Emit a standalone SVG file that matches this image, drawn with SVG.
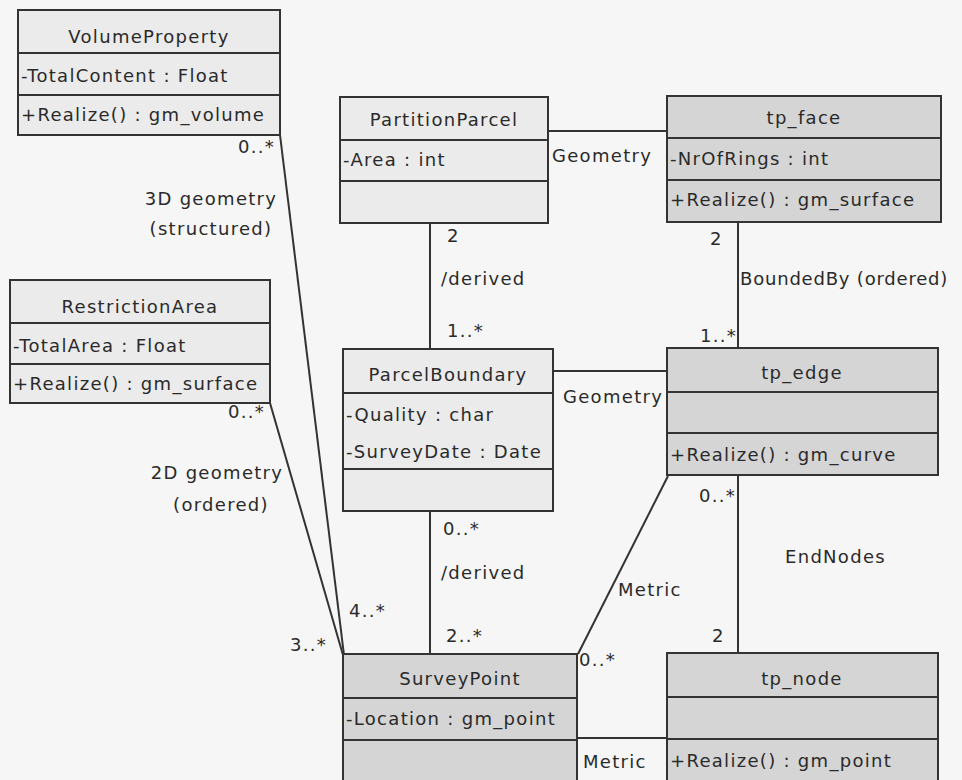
<svg xmlns="http://www.w3.org/2000/svg" width="962" height="780" viewBox="0 0 962 780">
  <style>
    text { font-family: "DejaVu Sans", "Liberation Sans", sans-serif; font-size: 18px; fill: #2a2a2a; letter-spacing: 1.3px; }
    .title { text-anchor: middle; }
    .box { stroke: #333333; stroke-width: 2; }
    .light { fill: #ebebeb; }
    .dark { fill: #d5d5d5; }
    .div { stroke: #333333; stroke-width: 2; fill: none; }
    .conn { stroke: #333333; stroke-width: 2; fill: none; }
  </style>
  <rect width="962" height="780" fill="#f6f6f6"/>

  <!-- associations -->
  <g id="connectors">
    <line class="conn" x1="548" y1="131" x2="667" y2="131"/>
    <line class="conn" x1="430" y1="223" x2="430" y2="349"/>
    <line class="conn" x1="553" y1="371" x2="667" y2="371"/>
    <line class="conn" x1="738" y1="222" x2="738" y2="348"/>
    <line class="conn" x1="738" y1="475" x2="738" y2="653"/>
    <line class="conn" x1="430" y1="511" x2="430" y2="654"/>
    <line class="conn" x1="577" y1="738" x2="667" y2="738"/>
    <line class="conn" x1="668" y1="476" x2="578" y2="654"/>
    <line class="conn" x1="280" y1="135" x2="344" y2="655"/>
    <line class="conn" x1="270" y1="403" x2="343" y2="655"/>

    <text x="552" y="162">Geometry</text>
    <text x="563" y="403">Geometry</text>
    <text x="447" y="242">2</text>
    <text x="441" y="285">/derived</text>
    <text x="447" y="337">1..*</text>
    <text x="443" y="535">0..*</text>
    <text x="441" y="579">/derived</text>
    <text x="446" y="642">2..*</text>
    <text x="710" y="245">2</text>
    <text x="740" y="285" style="letter-spacing:0.8px">BoundedBy (ordered)</text>
    <text x="700" y="342">1..*</text>
    <text x="699" y="502">0..*</text>
    <text x="785" y="563">EndNodes</text>
    <text x="712" y="642">2</text>
    <text x="618" y="596">Metric</text>
    <text x="579" y="666">0..*</text>
    <text x="583" y="768">Metric</text>
    <text x="238" y="153">0..*</text>
    <text class="title" x="211" y="205">3D geometry</text>
    <text class="title" x="211" y="235">(structured)</text>
    <text x="228" y="418">0..*</text>
    <text class="title" x="217" y="479">2D geometry</text>
    <text class="title" x="221" y="511">(ordered)</text>
    <text x="349" y="617">4..*</text>
    <text x="290" y="651">3..*</text>
  </g>

  <g id="VolumeProperty">
    <rect class="box light" x="18" y="10" width="262" height="125"/>
    <line class="div" x1="18" y1="53" x2="280" y2="53"/>
    <line class="div" x1="18" y1="95" x2="280" y2="95"/>
    <text class="title" x="149" y="43">VolumeProperty</text>
    <text x="21" y="82">-TotalContent : Float</text>
    <text x="21" y="121">+Realize() : gm_volume</text>
  </g>

  <g id="RestrictionArea">
    <rect class="box light" x="10" y="280" width="260" height="123"/>
    <line class="div" x1="10" y1="323" x2="270" y2="323"/>
    <line class="div" x1="10" y1="364" x2="270" y2="364"/>
    <text class="title" x="140" y="313">RestrictionArea</text>
    <text x="13" y="352">-TotalArea : Float</text>
    <text x="13" y="390">+Realize() : gm_surface</text>
  </g>

  <g id="PartitionParcel">
    <rect class="box light" x="340" y="97" width="208" height="126"/>
    <line class="div" x1="340" y1="140" x2="548" y2="140"/>
    <line class="div" x1="340" y1="181" x2="548" y2="181"/>
    <text class="title" x="444" y="126">PartitionParcel</text>
    <text x="343" y="166">-Area : int</text>
  </g>

  <g id="tp_face">
    <rect class="box dark" x="667" y="96" width="274" height="126"/>
    <line class="div" x1="667" y1="138" x2="941" y2="138"/>
    <line class="div" x1="667" y1="180" x2="941" y2="180"/>
    <text class="title" x="804" y="124">tp_face</text>
    <text x="670" y="165">-NrOfRings : int</text>
    <text x="670" y="206">+Realize() : gm_surface</text>
  </g>

  <g id="ParcelBoundary">
    <rect class="box light" x="343" y="349" width="210" height="162"/>
    <line class="div" x1="343" y1="393" x2="553" y2="393"/>
    <line class="div" x1="343" y1="469" x2="553" y2="469"/>
    <text class="title" x="448" y="381">ParcelBoundary</text>
    <text x="346" y="421">-Quality : char</text>
    <text x="346" y="458">-SurveyDate : Date</text>
  </g>

  <g id="tp_edge">
    <rect class="box dark" x="667" y="348" width="271" height="127"/>
    <line class="div" x1="667" y1="392" x2="938" y2="392"/>
    <line class="div" x1="667" y1="433" x2="938" y2="433"/>
    <text class="title" x="802" y="379">tp_edge</text>
    <text x="670" y="461">+Realize() : gm_curve</text>
  </g>

  <g id="SurveyPoint">
    <rect class="box dark" x="343" y="654" width="234" height="130"/>
    <line class="div" x1="343" y1="698" x2="577" y2="698"/>
    <line class="div" x1="343" y1="740" x2="577" y2="740"/>
    <text class="title" x="460" y="685">SurveyPoint</text>
    <text x="346" y="725">-Location : gm_point</text>
  </g>

  <g id="tp_node">
    <rect class="box dark" x="667" y="653" width="271" height="131"/>
    <line class="div" x1="667" y1="697" x2="938" y2="697"/>
    <line class="div" x1="667" y1="739" x2="938" y2="739"/>
    <text class="title" x="802" y="685">tp_node</text>
    <text x="670" y="767">+Realize() : gm_point</text>
  </g>
</svg>
